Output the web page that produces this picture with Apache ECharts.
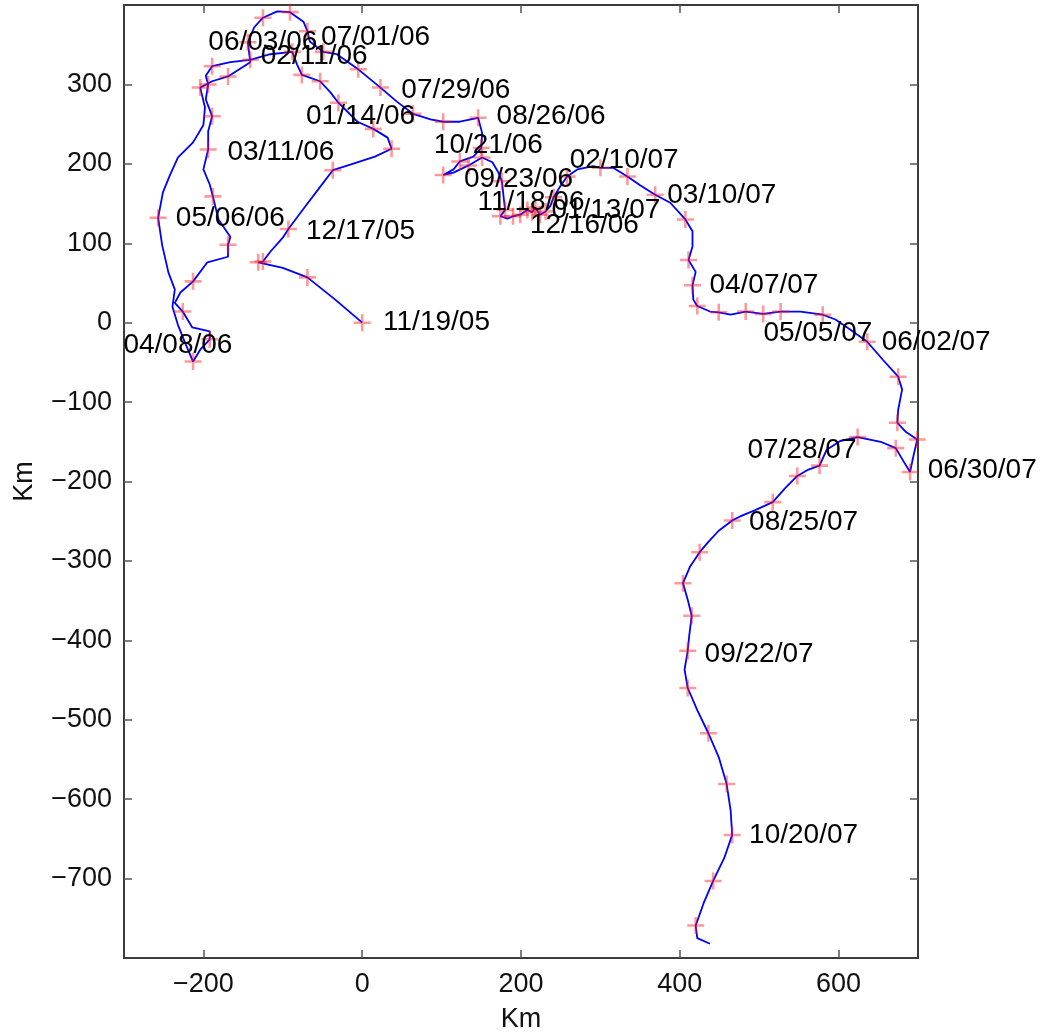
<!DOCTYPE html>
<html>
<head>
<meta charset="utf-8">
<script src="https://cdn.jsdelivr.net/npm/echarts@6/dist/echarts.min.js"></script>
<style>
html,body{margin:0;padding:0;background:#fff;}
#chart{width:1043px;height:1034px;}
</style>
</head>
<body>
<div id="chart"></div>
<script>
// Drifter track (km east / km north of start)
const trackX = [0,-34,-69,-100,-131,-125,-116,-100,-93,-72,-53,-37,-15,16,37,32,14,-6,-30,-40,-53,-76,-82,-88,-116,-141,-166,-189,-197,-194,-197,-189,-194,-194,-200,-192,-188,-181,-166,-169,-169,-195,-213,-229,-236,-226,-214,-192,-192,-204,-213,-222,-232,-239,-236,-244,-252,-257,-251,-242,-232,-213,-200,-198,-204,-189,-169,-141,-144,-136,-125,-107,-91,-74,-69,-66,-49,-32,-5,23,44,64,86,102,123,146,151,150,140,123,115,102,115,134,151,164,171,176,178,180,174,183,190,199,208,214,218,224,231,237,241,249,258,271,291,300,316,334,350,369,388,407,416,416,411,420,416,417,422,438,449,464,483,505,527,552,580,596,615,636,656,675,680,675,674,684,699,694,690,682,672,653,624,602,585,576,562,548,533,517,495,476,466,449,436,425,413,404,410,415,412,410,406,410,422,436,449,459,464,466,456,442,430,420,422,438];
const trackY = [0,29,57,69,76,77,89,107,118,146,171,192,199,209,219,233,244,253,277,290,304,312,325,341,338,331,328,323,311,300,281,260,241,218,193,174,159,130,108,98,83,76,52,38,25,14,-6,-11,-21,-34,-49,-28,-3,20,42,63,98,132,164,186,208,227,249,271,296,304,310,328,353,372,384,392,391,379,367,354,341,338,319,296,278,263,256,253,253,258,239,220,209,203,193,186,189,198,208,202,190,178,159,142,134,131,134,136,142,139,145,136,140,147,158,171,184,193,197,195,195,184,173,161,151,130,115,96,79,64,47,29,21,14,13,10,14,11,14,14,10,4,-9,-24,-47,-68,-84,-110,-126,-137,-147,-169,-188,-175,-158,-150,-144,-149,-160,-180,-185,-193,-208,-226,-236,-244,-249,-262,-276,-289,-307,-328,-349,-369,-393,-413,-437,-460,-488,-517,-547,-581,-614,-645,-674,-703,-731,-759,-775,-782];

// Weekly position fixes (red crosses)
const markX = [0,-69,-131,-125,-93,-37,37,14,-30,-53,-76,-88,-141,-189,-194,-189,-194,-188,-169,-213,-226,-192,-213,-257,-204,-169,-144,-125,-91,-69,-49,-5,23,64,102,146,150,123,102,134,151,176,180,174,190,199,208,214,218,224,231,241,258,300,334,369,407,411,416,422,449,483,505,527,580,636,675,674,699,690,672,624,576,548,517,466,425,404,415,410,410,436,459,466,442,420];
const markY = [0,57,76,77,118,192,219,244,277,304,312,341,331,323,300,260,218,159,98,52,14,-21,-49,132,296,310,353,384,391,367,341,319,296,263,253,258,220,203,186,198,208,178,142,134,134,136,142,139,145,136,140,158,184,195,184,161,130,79,47,21,13,14,11,14,10,-24,-68,-126,-147,-188,-158,-144,-180,-193,-226,-249,-289,-328,-369,-413,-460,-517,-581,-645,-703,-759];

// Date annotations
const labelText = ['11/19/05','12/17/05','01/14/06','02/11/06','03/11/06','04/08/06','05/06/06','06/03/06','07/01/06','07/29/06','08/26/06','09/23/06','10/21/06','11/18/06','12/16/06','01/13/07','02/10/07','03/10/07','04/07/07','05/05/07','06/02/07','06/30/07','07/28/07','08/25/07','09/22/07','10/20/07'];
const labelX = [25,-72,-72,-129,-171,-302,-236,-195,-53,48,168,127,89,144,210,237,260,383,436,504,653,711,484,486,430,486];
const labelY = [0,115,260,335,214,-28,132,353,359,293,260,180,223,152,122,142,205,160,47,-13,-25,-186,-161,-251,-418,-645];

// Axis ticks
const xTicks = [-200,0,200,400,600];
const yTicks = [-700,-600,-500,-400,-300,-200,-100,0,100,200,300];

const FONT = "'Liberation Sans', Arial, Helvetica, sans-serif";
const chart = echarts.init(document.getElementById('chart'), null, {renderer:'canvas'});
const fmt = v => String(v).replace('-', '\u2212');
const axisLineStyle = {color:'#3c3c3c', width:2};
const tickStyle = {color:'#555', width:1.5};

const baseX = {
  type:'value', min:-300, max:700,
  splitLine:{show:false},
  axisLine:{show:true, onZero:false, lineStyle:axisLineStyle},
  axisTick:{show:true, inside:true, length:8, customValues:xTicks, lineStyle:tickStyle}
};
const baseY = {
  type:'value', min:-800, max:400,
  splitLine:{show:false},
  axisLine:{show:true, onZero:false, lineStyle:axisLineStyle},
  axisTick:{show:true, inside:true, length:8, customValues:yTicks, lineStyle:tickStyle}
};

chart.setOption({
  animation:false,
  backgroundColor:'#fff',
  grid:{left:124, right:125, top:5, bottom:76, containLabel:false, outerBoundsMode:'none'},
  xAxis:[
    Object.assign({}, baseX, {
      position:'bottom',
      name:'Km', nameLocation:'middle', nameGap:48,
      nameTextStyle:{fontFamily:FONT, fontSize:27, color:'#111'},
      axisLabel:{show:true, customValues:xTicks, formatter:fmt, margin:13, fontFamily:FONT, fontSize:27, color:'#111'}
    }),
    Object.assign({}, baseX, {position:'top', axisLabel:{show:false}})
  ],
  yAxis:[
    Object.assign({}, baseY, {
      position:'left',
      name:'Km', nameLocation:'middle', nameGap:86, nameRotate:90,
      nameTextStyle:{fontFamily:FONT, fontSize:27, color:'#111'},
      axisLabel:{show:true, customValues:yTicks, formatter:fmt, margin:12, fontFamily:FONT, fontSize:27, color:'#111'}
    }),
    Object.assign({}, baseY, {position:'right', axisLabel:{show:false}})
  ],
  series:[
    {
      type:'line', xAxisIndex:0, yAxisIndex:0,
      data:trackX.map((x,i)=>[x, trackY[i]]),
      showSymbol:false, symbol:'none', smooth:false,
      lineStyle:{color:'#0000ff', width:1.8},
      z:2, silent:true
    },
    {
      type:'scatter', xAxisIndex:0, yAxisIndex:0,
      data:markX.map((x,i)=>[x, markY[i]]),
      symbol:'path://M8.5,0H11.5V8.5H20V11.5H11.5V20H8.5V11.5H0V8.5H8.5Z',
      symbolSize:17,
      itemStyle:{color:'rgba(255,20,20,0.55)'},
      z:3, silent:true, clip:false
    },
    {
      type:'scatter', xAxisIndex:0, yAxisIndex:0,
      data:labelX.map((x,i)=>({value:[x, labelY[i]], name:labelText[i]})),
      symbol:'circle', symbolSize:2,
      itemStyle:{color:'rgba(0,0,0,0)'},
      label:{show:true, position:'right', distance:0, formatter:'{b}',
             fontFamily:FONT, fontSize:28, color:'#000', opacity:1},
      labelLayout:{hideOverlap:false},
      z:4, silent:true, clip:false
    }
  ]
});
</script>
</body>
</html>
